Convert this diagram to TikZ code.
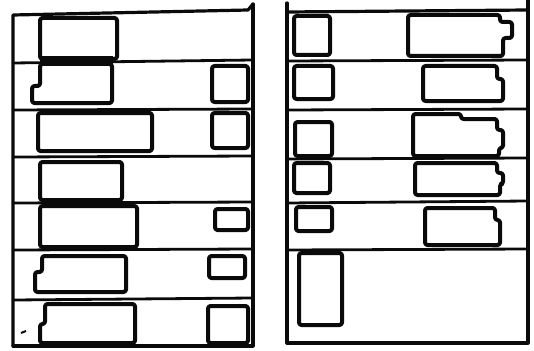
\documentclass[tikz,border=0pt]{standalone}
\usepackage{tikz}
\definecolor{ink}{RGB}{10,10,10}
\tikzset{
  frame/.style={draw=ink, line width=3.2pt, line cap=round, line join=round},
  shelf/.style={draw=ink, line width=2.8pt, line cap=round},
  box/.style={draw=ink, line width=4pt, rounded corners=2.5pt, line join=round},
  band/.style={fill=ink, draw=none}
}
\begin{document}
\begin{tikzpicture}[x=1pt, y=-1pt]
    \useasboundingbox (0,0) rectangle (534,350);

    % left panel frame
    \draw[frame] (13,346) -- (13,15) -- (248,10) -- (253,4);
    \draw[frame] (13,346) -- (253,346) -- (253,4);

    % left panel shelves
    \draw[shelf] (13,63) -- (253,60);
    \draw[shelf] (13,110) -- (253,109);
    \draw[shelf] (13,157) -- (253,156);
    \draw[shelf] (13,203) -- (253,202);
    \draw[shelf] (13,250) -- (253,249);
    \draw[shelf] (13,300) -- (253,298);

    % left panel boxes
    \draw[box] (40,18) rectangle (117,59);
    \fill[band] (40,56) rectangle (113,66);
    \draw[box] (40,64) -- (112,64) -- (112,103) -- (32,103) -- (32,86) -- (40,86) -- cycle;
    \draw[box] (212,66) rectangle (248,102);

    \draw[box] (38,113) rectangle (152,151);
    \draw[box] (212,113) rectangle (248,148);

    \draw[box] (40,162) rectangle (122,200);

    \draw[box] (40,206) rectangle (137,247);
    \draw[box] (215,209) rectangle (248,230);

    \draw[box] (42,256) -- (126,256) -- (126,292) -- (35,292) -- (35,272) -- (42,272) -- cycle;
    \draw[box] (209,256) rectangle (245,278);

    \draw[box] (45,304) -- (135,304) -- (135,343) -- (40,343) -- (40,324) -- (45,324) -- cycle;
    \draw[box] (208,306) rectangle (248,343);
    \draw[ink, line width=2pt] (21,333) -- (26,331);

    % right panel frame
    \draw[frame] (287,3) -- (287,343) -- (528,343) -- (528,0);
    \draw[frame] (287,12) -- (528,10);

    % right panel shelves
    \draw[shelf] (287,61) -- (528,60);
    \draw[shelf] (287,110) -- (528,109);
    \draw[shelf] (287,159) -- (528,158);
    \draw[shelf] (287,203) -- (528,201);
    \draw[shelf] (287,250) -- (528,249);

    % right panel boxes
    \draw[box] (294,16) rectangle (330,55);
    \draw[box] (408,15) -- (500,15) -- (500,22) -- (512,22) -- (512,38) -- (503,38) -- (503,56) -- (408,56) -- cycle;

    \draw[box] (294,66) rectangle (333,99);
    \draw[box] (423,66) -- (497,66) -- (497,79) -- (503,79) -- (503,101) -- (423,101) -- cycle;

    \draw[box] (295,122) rectangle (332,156);
    \draw[box] (413,114) -- (461,114) -- (461,119) -- (497,119) -- (497,130) -- (503,130) -- (503,148) -- (499,148) -- (499,156) -- (413,156) -- cycle;

    \draw[box] (294,163) rectangle (330,193);
    \draw[box] (415,163) -- (497,163) -- (497,173) -- (503,173) -- (503,184) -- (500,184) -- (500,195) -- (415,195) -- cycle;

    \draw[box] (296,207) rectangle (332,231);
    \draw[box] (425,208) -- (495,208) -- (495,220) -- (500,220) -- (500,245) -- (425,245) -- cycle;

    \draw[box] (299,253) rectangle (342,325);
\end{tikzpicture}
\end{document}
